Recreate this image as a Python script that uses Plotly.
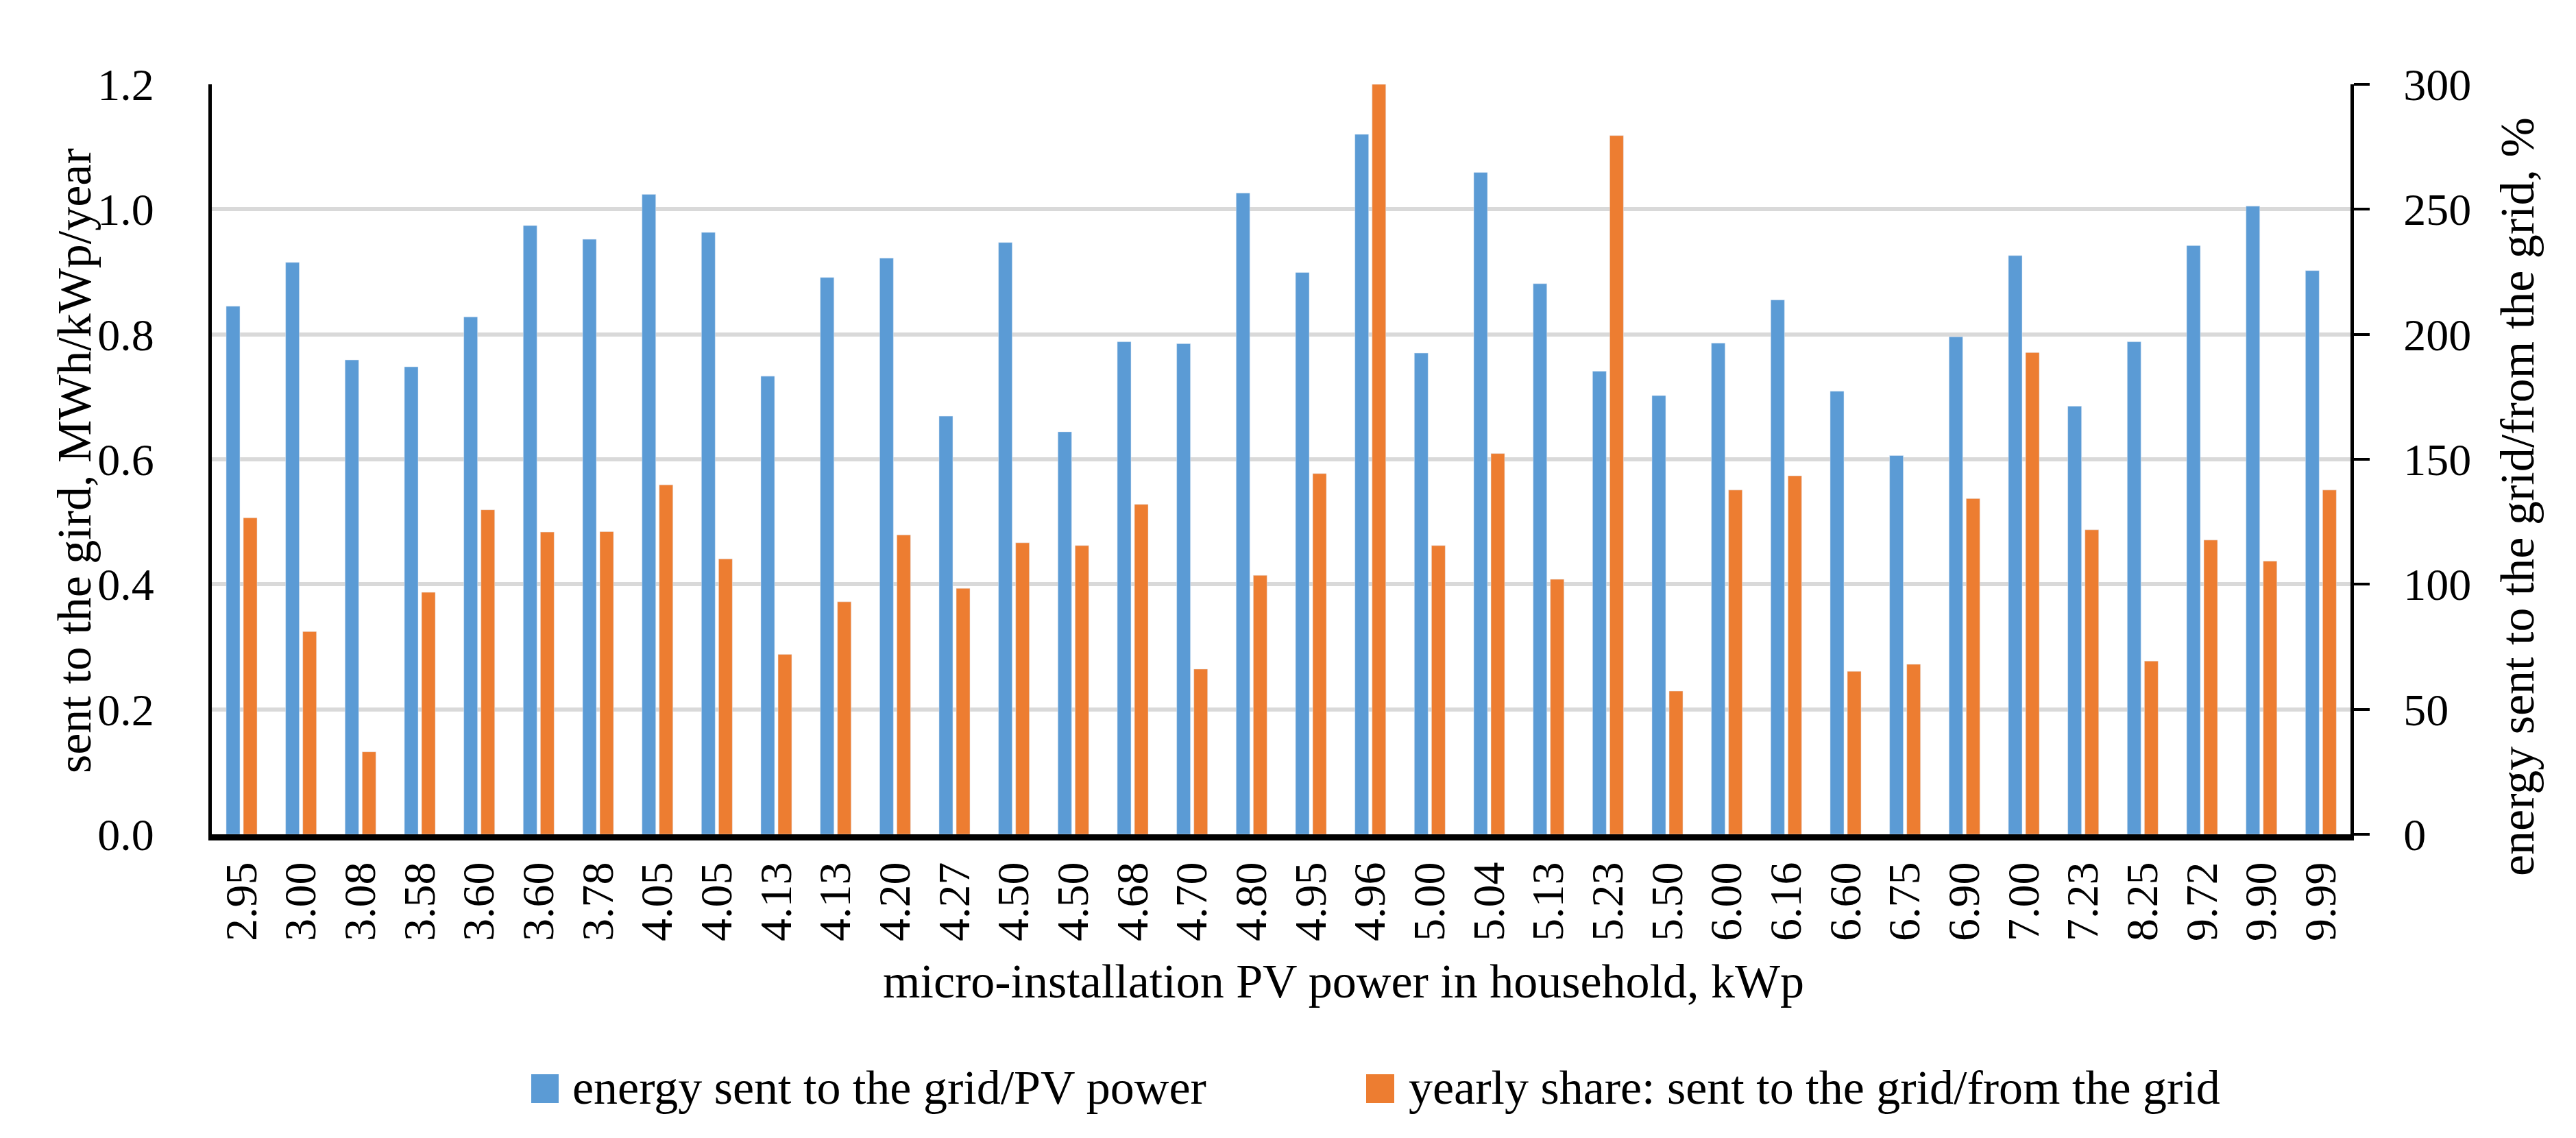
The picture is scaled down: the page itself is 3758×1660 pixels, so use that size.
import plotly.graph_objects as go

# ---- data ----
pv_power_labels = ["2.95", "3.00", "3.08", "3.58", "3.60", "3.60", "3.78", "4.05", "4.05",
                   "4.13", "4.13", "4.20", "4.27", "4.50", "4.50", "4.68", "4.70", "4.80",
                   "4.95", "4.96", "5.00", "5.04", "5.13", "5.23", "5.50", "6.00", "6.16",
                   "6.60", "6.75", "6.90", "7.00", "7.23", "8.25", "9.72", "9.90", "9.99"]
energy_per_kwp = [0.845, 0.915, 0.759, 0.748, 0.828, 0.974, 0.952, 1.024, 0.963,
                  0.733, 0.891, 0.922, 0.669, 0.947, 0.644, 0.788, 0.785, 1.026,
                  0.899, 1.120, 0.770, 1.059, 0.881, 0.741, 0.702, 0.786, 0.855,
                  0.709, 0.606, 0.796, 0.926, 0.685, 0.788, 0.942, 1.005, 0.902]
yearly_share_pct = [126.6, 81.1, 33.0, 96.8, 129.8, 120.9, 121.1, 139.8, 110.2,
                    72.0, 93.0, 119.8, 98.4, 116.6, 115.5, 132.0, 66.1, 103.6,
                    144.3, 300.0, 115.5, 152.3, 102.0, 279.5, 57.3, 137.7, 143.4,
                    65.2, 68.0, 134.3, 192.7, 121.8, 69.3, 117.7, 109.3, 137.7]
left_ticks = [0.0, 0.2, 0.4, 0.6, 0.8, 1.0, 1.2]
right_ticks = [0, 50, 100, 150, 200, 250, 300]

name_blue = "energy sent to the grid/PV power"
name_orange = "yearly share: sent to the grid/from the grid"

BLUE = "#5B9BD5"
ORANGE = "#ED7D31"
FONT = "Palatino Linotype, Book Antiqua, Palatino, Liberation Serif, serif"
FS = 70      # titles / legend
FS_TICK = 66  # tick labels

# page is drawn with an 8px body margin; compensate so the plot lands where intended
OFF = 8
W, H = 3758 - OFF, 1660 - OFF
# target plot area in page pixels
PX0, PX1, PY0, PY1 = 309, 3429, 123, 1217
ML, MT = PX0 - OFF, PY0 - OFF
MR = W - (PX1 - OFF)
MB = H - (PY1 - OFF)
PW, PH = PX1 - PX0, PY1 - PY0


def px_x(px):
    return (px - PX0) / PW


def px_y(py):
    return (PY1 - py) / PH


xpos = list(range(len(pv_power_labels)))

fig = go.Figure()
fig.add_trace(go.Bar(x=xpos, y=energy_per_kwp, name=name_blue, marker_color=BLUE,
                     width=0.231, offset=-0.258, yaxis="y", showlegend=False))
fig.add_trace(go.Bar(x=xpos, y=yearly_share_pct, name=name_orange, marker_color=ORANGE,
                     width=0.231, offset=0.031, yaxis="y2", showlegend=False))

fig.update_layout(
    width=W, height=H,
    margin=dict(l=ML, r=MR, t=MT, b=MB, autoexpand=False),
    paper_bgcolor="white", plot_bgcolor="white",
    font=dict(family=FONT, size=FS, color="black"),
    barmode="overlay",
    xaxis=dict(
        range=[-0.5, len(pv_power_labels) - 0.5],
        tickmode="array", tickvals=xpos, ticktext=pv_power_labels,
        tickangle=-90, ticks="", showgrid=False, zeroline=False,
        showline=True, linecolor="black", linewidth=9,
        ticklabelstandoff=5, tickfont=dict(size=FS_TICK),
    ),
    yaxis=dict(
        range=[0, 1.2], tickmode="array", tickvals=left_ticks,
        ticktext=[f"{v:.1f}" for v in left_ticks],
        showgrid=True, gridcolor="#D9D9D9", gridwidth=6, zeroline=False,
        showline=True, linecolor="black", linewidth=5, ticks="",
        ticklabelstandoff=66, tickfont=dict(size=FS_TICK),
    ),
    yaxis2=dict(
        range=[0, 300], tickmode="array", tickvals=right_ticks,
        overlaying="y", side="right", showgrid=False, zeroline=False,
        showline=True, linecolor="black", linewidth=5,
        ticks="outside", ticklen=23, tickwidth=4, tickcolor="black",
        ticklabelstandoff=36, tickfont=dict(size=FS_TICK),
    ),
)

annotations = [
    dict(text="sent to the gird, MWh/kWp/year", x=px_x(108), y=px_y(672),
         textangle=-90, xanchor="center", yanchor="middle"),
    dict(text="energy sent to the grid/from the grid, %", x=px_x(3672), y=px_y(725),
         textangle=-90, xanchor="center", yanchor="middle"),
    dict(text="micro-installation PV power in household, kWp", x=px_x(1960), y=px_y(1432),
         xanchor="center", yanchor="middle"),
    dict(text=name_blue, x=px_x(833), y=px_y(1586), xanchor="left", yanchor="middle"),
    dict(text=name_orange, x=px_x(2053), y=px_y(1586), xanchor="left", yanchor="middle"),
]
for a in annotations:
    a.update(xref="paper", yref="paper", showarrow=False, font=dict(family=FONT, size=FS, color="black"))
fig.update_layout(annotations=annotations)

fig.update_layout(shapes=[
    dict(type="rect", xref="paper", yref="paper", x0=px_x(775), x1=px_x(815),
         y0=px_y(1609), y1=px_y(1567), fillcolor=BLUE, line=dict(width=0)),
    dict(type="rect", xref="paper", yref="paper", x0=px_x(1993), x1=px_x(2034),
         y0=px_y(1609), y1=px_y(1567), fillcolor=ORANGE, line=dict(width=0)),
])

fig.write_html("out.html")
